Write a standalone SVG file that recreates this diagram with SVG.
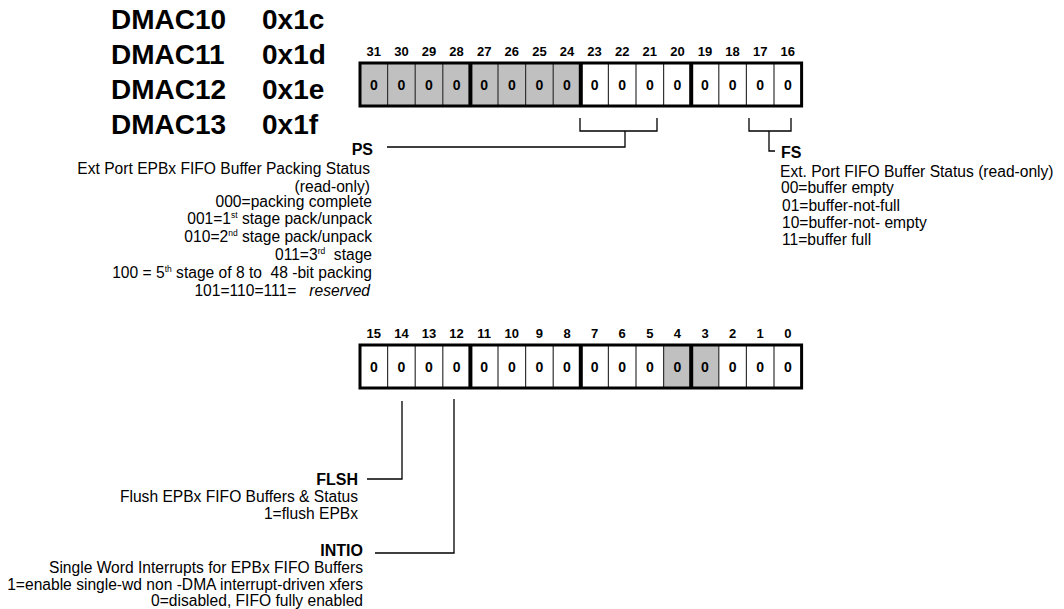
<svg xmlns="http://www.w3.org/2000/svg" width="1064" height="609" viewBox="0 0 1064 609">
<style>
text{font-family:"Liberation Sans",Arial,sans-serif;fill:#000;white-space:pre}
.title{font-size:28px;font-weight:bold}
.bn{font-size:13px;font-weight:bold;text-anchor:middle}
.cv{font-size:14px;font-weight:bold;text-anchor:middle}
.fl{font-size:16px;font-weight:bold}
.d{font-size:15.6px}
.r{text-anchor:end}
.g{fill:#c0c0c0}
.w{fill:#fff}
.thin{stroke:#333;stroke-width:1.2;fill:none}
.thick{stroke:#000;stroke-width:4;fill:none}
.box{stroke:#000;stroke-width:3;fill:none}
.con{stroke:#000;stroke-width:1.3;fill:none}
.sup{font-size:8.5px}
</style>
<g id="titles">
<text class="title" x="111" y="29">DMAC10</text><text class="title" x="262" y="29">0x1c</text>
<text class="title" x="111" y="64">DMAC11</text><text class="title" x="262" y="64">0x1d</text>
<text class="title" x="111" y="99">DMAC12</text><text class="title" x="262" y="99">0x1e</text>
<text class="title" x="111" y="134">DMAC13</text><text class="title" x="262" y="134">0x1f</text>
</g>
<g id="reg-high">
<rect class="g" x="360" y="63" width="220.8" height="43"/>
<rect class="w" x="580.8" y="63" width="220.8" height="43"/>
<path class="thin" d="M387.6 63V106M415.2 63V106M442.8 63V106M498 63V106M525.6 63V106M553.2 63V106M608.4 63V106M636 63V106M663.6 63V106M718.8 63V106M746.4 63V106M774 63V106"/>
<path class="thick" d="M470.4 63V106M580.8 63V106M691.2 63V106"/>
<rect class="box" x="360" y="63" width="441.6" height="43"/>
<g class="bn">
<text x="373.8" y="56">31</text><text x="401.4" y="56">30</text><text x="429" y="56">29</text><text x="456.6" y="56">28</text>
<text x="484.2" y="56">27</text><text x="511.8" y="56">26</text><text x="539.4" y="56">25</text><text x="567" y="56">24</text>
<text x="594.6" y="56">23</text><text x="622.2" y="56">22</text><text x="649.8" y="56">21</text><text x="677.4" y="56">20</text>
<text x="705" y="56">19</text><text x="732.6" y="56">18</text><text x="760.2" y="56">17</text><text x="787.8" y="56">16</text>
</g>
<g class="cv">
<text x="373.8" y="90">0</text><text x="401.4" y="90">0</text><text x="429" y="90">0</text><text x="456.6" y="90">0</text>
<text x="484.2" y="90">0</text><text x="511.8" y="90">0</text><text x="539.4" y="90">0</text><text x="567" y="90">0</text>
<text x="594.6" y="90">0</text><text x="622.2" y="90">0</text><text x="649.8" y="90">0</text><text x="677.4" y="90">0</text>
<text x="705" y="90">0</text><text x="732.6" y="90">0</text><text x="760.2" y="90">0</text><text x="787.8" y="90">0</text>
</g>
</g>
<g id="reg-low">
<rect class="w" x="360" y="345" width="441.6" height="43"/>
<rect class="g" x="663.6" y="345" width="55.2" height="43"/>
<path class="thin" d="M387.6 345V388M415.2 345V388M442.8 345V388M498 345V388M525.6 345V388M553.2 345V388M608.4 345V388M636 345V388M663.6 345V388M718.8 345V388M746.4 345V388M774 345V388"/>
<path class="thick" d="M470.4 345V388M580.8 345V388M691.2 345V388"/>
<rect class="box" x="360" y="345" width="441.6" height="43"/>
<g class="bn">
<text x="373.8" y="338">15</text><text x="401.4" y="338">14</text><text x="429" y="338">13</text><text x="456.6" y="338">12</text>
<text x="484.2" y="338">11</text><text x="511.8" y="338">10</text><text x="539.4" y="338">9</text><text x="567" y="338">8</text>
<text x="594.6" y="338">7</text><text x="622.2" y="338">6</text><text x="649.8" y="338">5</text><text x="677.4" y="338">4</text>
<text x="705" y="338">3</text><text x="732.6" y="338">2</text><text x="760.2" y="338">1</text><text x="787.8" y="338">0</text>
</g>
<g class="cv">
<text x="373.8" y="372">0</text><text x="401.4" y="372">0</text><text x="429" y="372">0</text><text x="456.6" y="372">0</text>
<text x="484.2" y="372">0</text><text x="511.8" y="372">0</text><text x="539.4" y="372">0</text><text x="567" y="372">0</text>
<text x="594.6" y="372">0</text><text x="622.2" y="372">0</text><text x="649.8" y="372">0</text><text x="677.4" y="372">0</text>
<text x="705" y="372">0</text><text x="732.6" y="372">0</text><text x="760.2" y="372">0</text><text x="787.8" y="372">0</text>
</g>
</g>
<g id="connectors">
<path class="con" d="M580 118V131H657V118M625 131V147H387"/>
<path class="con" d="M749 118V131H791V118M769 131V151H775"/>
<path class="con" d="M402 401V479H367"/>
<path class="con" d="M454 399V553H375"/>
</g>
<g id="field-ps">
<text class="fl r" x="373" y="155">PS</text>
<g class="d r">
<text x="370" y="174">Ext Port EPBx FIFO Buffer Packing Status</text>
<text x="370" y="192">(read-only)</text>
<text x="372" y="207">000=packing complete</text>
<text x="372" y="224">001=1<tspan class="sup" dy="-6">st</tspan><tspan dy="6"> stage pack/unpack</tspan></text>
<text x="372" y="242">010=2<tspan class="sup" dy="-6">nd</tspan><tspan dy="6"> stage pack/unpack</tspan></text>
<text x="372" y="260">011=3<tspan class="sup" dy="-6">rd</tspan><tspan dy="6">  stage</tspan></text>
<text x="372" y="278">100 = 5<tspan class="sup" dy="-6">th</tspan><tspan dy="6"> stage of 8 to  48 -bit packing</tspan></text>
<text x="370" y="296">101=110=111=   <tspan font-style="italic">reserved</tspan></text>
</g>
</g>
<g id="field-fs">
<text class="fl" x="781" y="158">FS</text>
<g class="d">
<text x="780" y="177">Ext. Port FIFO Buffer Status (read-only)</text>
<text x="781" y="193">00=buffer empty</text>
<text x="782" y="211">01=buffer-not-full</text>
<text x="782" y="228">10=buffer-not- empty</text>
<text x="782" y="245">11=buffer full</text>
</g>
</g>
<g id="field-flsh">
<text class="fl r" x="358" y="485">FLSH</text>
<g class="d r">
<text x="358" y="502">Flush EPBx FIFO Buffers &amp; Status</text>
<text x="358" y="519">1=flush EPBx</text>
</g>
</g>
<g id="field-intio">
<text class="fl r" x="363" y="556">INTIO</text>
<g class="d r">
<text x="363" y="573">Single Word Interrupts for EPBx FIFO Buffers</text>
<text x="363" y="590">1=enable single-wd non -DMA interrupt-driven xfers</text>
<text x="363" y="606">0=disabled, FIFO fully enabled</text>
</g>
</g>
</svg>
